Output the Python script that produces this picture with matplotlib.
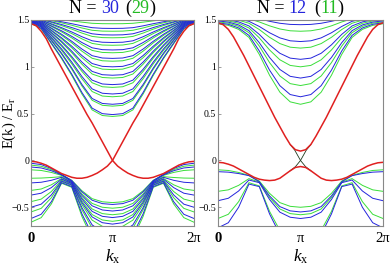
import matplotlib.pyplot as plt
import numpy as np
from matplotlib.transforms import IdentityTransform

plt.rcParams['font.family'] = ['Liberation Serif', 'DejaVu Serif']
plt.rcParams['mathtext.fontset'] = 'custom'
plt.rcParams['mathtext.rm'] = 'Liberation Serif'
plt.rcParams['mathtext.it'] = 'Liberation Serif:italic'

BLUE = '#2424dc'
GREEN = '#3ade3a'
RED = '#e02020'
DARK = '#1e3a1e'

# k in units of pi (half zone, mirrored about pi when drawn)
k_half = [0, 0.125, 0.25, 0.375, 0.5, 0.625, 0.75, 0.875, 1.0]
k_fine = [0, 0.0625, 0.125, 0.1875, 0.25, 0.3125, 0.375, 0.4375, 0.5,
          0.5625, 0.625, 0.6875, 0.75, 0.8125, 0.875, 0.9375, 1.0]

# ---------------- N = 30 (29) ----------------
red30_down = [1.46, 1.44, 1.38, 1.30, 1.19, 1.09, 0.99, 0.89, 0.79,
              0.69, 0.59, 0.49, 0.40, 0.30, 0.20, 0.10, 0.00]
red30_dip = [0.00, -0.06, -0.10, -0.135, -0.16, -0.18, -0.19, -0.19, -0.18,
             -0.16, -0.14, -0.11, -0.08, -0.05, -0.03, -0.015, -0.01]

up30_profile = [0, 0.06, 0.22, 0.38, 0.56, 0.76, 0.93, 0.99, 1.0]
up30_blue_top = [1.47, 1.48, 1.485, 1.49, 1.495, 1.50, 1.505, 1.51, 1.515, 1.52, 1.525]
up30_blue_bot = [0.49, 0.60, 0.71, 0.81, 0.91, 1.00, 1.09, 1.18, 1.26, 1.34, 1.41]
up30_green_top = [1.465, 1.475, 1.48, 1.49, 1.495, 1.50, 1.505, 1.51, 1.515, 1.52, 1.525, 1.53]
up30_green_bot = [0.47, 0.58, 0.68, 0.78, 0.88, 0.97, 1.06, 1.15, 1.23, 1.31, 1.38, 1.46]

low30_conv = -0.17
low30_blue_k0 = [-0.03, -0.07, -0.24, -0.37, -0.50, -0.62]
low30_blue_pi = [-0.47, -0.54, -0.61, -0.68, -0.78, -0.90]
low30_green_k0 = [-0.05, -0.10, -0.19, -0.32, -0.44, -0.55, -0.66]
low30_green_pi = [-0.45, -0.51, -0.58, -0.65, -0.72, -0.82, -0.95]

# ---------------- N = 12 (11) ----------------
red12_upper = [1.47, 1.45, 1.40, 1.32, 1.22, 1.12, 1.01, 0.90, 0.79,
               0.68, 0.57, 0.46, 0.36, 0.26, 0.17, 0.115, 0.10]
red12_lower = [-0.02, -0.025, -0.04, -0.06, -0.09, -0.12, -0.15, -0.18, -0.20,
               -0.21, -0.215, -0.21, -0.19, -0.15, -0.11, -0.075, -0.065]
cross12_k = [0.875, 0.93, 1.0, 1.06, 1.125]
cross12_e = [0.17, 0.11, 0.0, -0.065, -0.11]

up12_profile = [0, 0.02, 0.07, 0.17, 0.38, 0.64, 0.85, 0.97, 1.0]
up12_blue_top = [1.47, 1.49, 1.51, 1.53, 1.55]
up12_blue_bot = [0.68, 0.88, 1.08, 1.27, 1.45]
up12_green_top = [1.46, 1.48, 1.50, 1.52, 1.54]
up12_green_bot = [0.60, 0.80, 1.00, 1.20, 1.38]

low12_conv = -0.17
low12_blue_k0 = [-0.12, -0.43, -0.72]
low12_blue_pi = [-0.55, -0.62, -0.90]
low12_green_k0 = [-0.10, -0.33, -0.62]
low12_green_pi = [-0.50, -0.58, -0.85]

fan_w = [0, 0.1, 0.4, 0.85]
bowl_w = [0.15, 0.55, 0.85, 0.97, 1.0]


def mirror(k, e):
    k = list(k) + [2 - v for v in reversed(k[:-1])]
    e = list(e) + list(reversed(e[:-1]))
    return np.array(k) * np.pi, np.array(e)


def draw_upper(ax, tops, bots, profile, color):
    for t, b in zip(tops, bots):
        e = [t - (t - b) * p for p in profile]
        ax.plot(*mirror(k_half, e), color=color, lw=0.7)


def draw_lower(ax, k0, kpi, conv, color):
    for a, c in zip(k0, kpi):
        e = [a + (conv - a) * w for w in fan_w] + [conv + (c - conv) * w for w in bowl_w]
        ax.plot(*mirror(k_half, e), color=color, lw=0.7)


def colored_title(fig, ax, parts):
    r = fig.canvas.get_renderer()
    bb = ax.get_window_extent(renderer=r)
    items = []
    for s, c, gap in parts:
        t = fig.text(0, 0, s, color=c, fontsize=13, transform=IdentityTransform(),
                     va='baseline')
        items.append((t, t.get_window_extent(renderer=r).width, gap))
    total = sum(w + g for _, w, g in items)
    x = bb.x0 + bb.width / 2 - total / 2
    for t, w, g in items:
        t.set_position((x, bb.y1 + 7))
        x += w + g


fig = plt.figure(figsize=(3.9, 2.67), dpi=100)
ax1 = fig.add_axes([0.0795, 0.1536, 0.418, 0.7715])
ax2 = fig.add_axes([0.559, 0.1536, 0.4231, 0.7715])

# left panel
draw_upper(ax1, up30_green_top, up30_green_bot, up30_profile, GREEN)
draw_upper(ax1, up30_blue_top, up30_blue_bot, up30_profile, BLUE)
draw_lower(ax1, low30_green_k0, low30_green_pi, low30_conv, GREEN)
draw_lower(ax1, low30_blue_k0, low30_blue_pi, low30_conv, BLUE)
kA = np.array(k_fine + [1 + v for v in k_fine[1:]]) * np.pi
eA = np.array(red30_down + red30_dip[1:])
ax1.plot(kA, eA, color=RED, lw=1.1)
ax1.plot(2 * np.pi - kA, eA, color=RED, lw=1.1)

# right panel
draw_upper(ax2, up12_green_top, up12_green_bot, up12_profile, GREEN)
draw_upper(ax2, up12_blue_top, up12_blue_bot, up12_profile, BLUE)
draw_lower(ax2, low12_green_k0, low12_green_pi, low12_conv, GREEN)
draw_lower(ax2, low12_blue_k0, low12_blue_pi, low12_conv, BLUE)
kc = np.array(cross12_k) * np.pi
ax2.plot(kc, cross12_e, color=DARK, lw=0.6)
ax2.plot(2 * np.pi - kc, cross12_e, color=DARK, lw=0.6)
ax2.plot(*mirror(k_fine, red12_upper), color=RED, lw=1.1)
ax2.plot(*mirror(k_fine, red12_lower), color=RED, lw=1.1)

for ax in (ax1, ax2):
    ax.set_xlim(0, 2 * np.pi)
    ax.set_ylim(-0.7, 1.5)
    ax.set_xticks([0, np.pi, 2 * np.pi])
    ax.set_xticklabels(['0', '\u03c0', '2\u03c0'], fontsize=10.5)
    ax.get_xticklabels()[0].set_fontweight('bold')
    ax.set_yticks([-0.5, 0, 0.5, 1, 1.5])
    ax.set_yticklabels(['\u22120.5', '0', '0.5', '1', '1.5'], fontsize=7)
    ax.tick_params(axis='y', direction='in', length=2, width=0.5, color='#777777', pad=1.2)
    ax.tick_params(axis='x', length=0, pad=4.5)
    for sp in ax.spines.values():
        sp.set_color('#888888')
        sp.set_linewidth(0.8)
    ax.set_xlabel('$k_{\\mathrm{x}}$', fontsize=12.5)
    ax.xaxis.set_label_coords(0.5, -0.105)

ax1.set_ylabel('E(k) / E$_{\\mathrm{r}}$', fontsize=10.5)
ax1.yaxis.set_label_coords(-0.08, 0.5)

colored_title(fig, ax1, [('N =', 'black', 4), ('30', BLUE, 7), ('(', 'black', 0),
                         ('29', '#22bb22', 0), (')', 'black', 0)])
colored_title(fig, ax2, [('N =', 'black', 4), ('12', BLUE, 7), ('(', 'black', 0),
                         ('11', '#22bb22', 0), (')', 'black', 0)])

fig.savefig('out.png', dpi=100)
